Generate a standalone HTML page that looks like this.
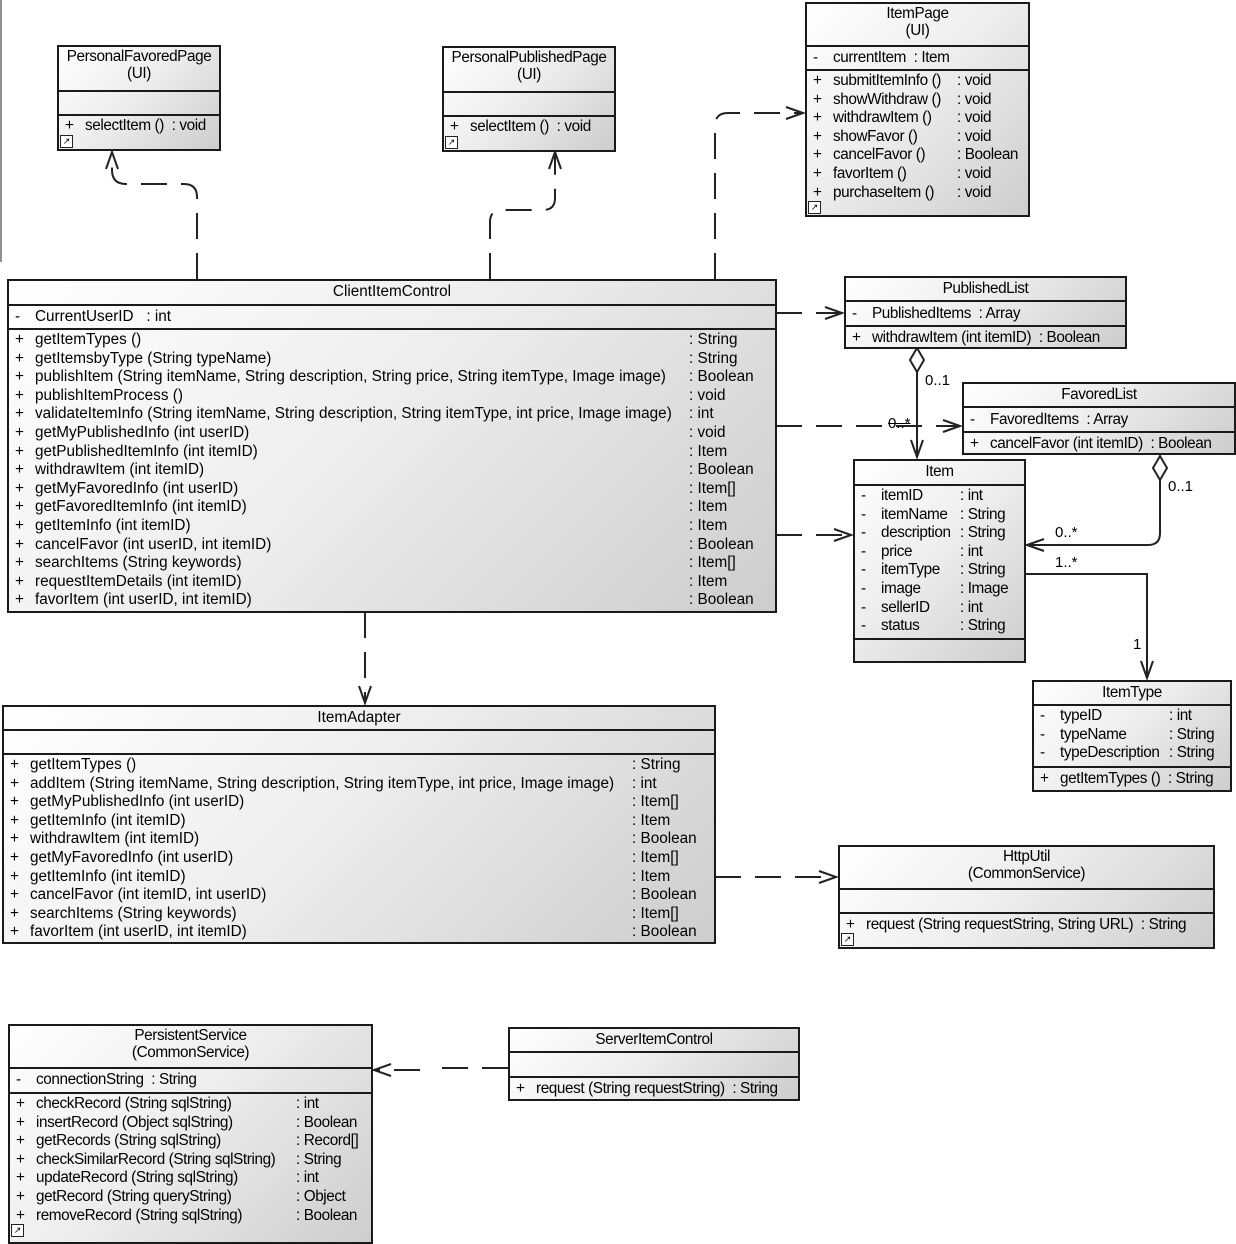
<!DOCTYPE html>
<html><head><meta charset="utf-8"><style>
body{margin:0;width:1236px;height:1240px;background:#fff;position:relative;overflow:hidden;font-family:"Liberation Sans",sans-serif}
.b{position:absolute;border:2px solid #1a1a1a;background:linear-gradient(135deg,#ffffff 0%,#eeeeee 45%,#cdcdcd 100%);font-size:15.3px;color:#000;box-sizing:border-box}
.n{letter-spacing:-0.4px}
.sec{position:relative;box-sizing:border-box;border-top:2px solid #1a1a1a}
.sec:first-child{border-top:none}
.h{text-align:center;line-height:17px;padding-top:1px}
.r{height:18.6px;line-height:17px;white-space:nowrap;position:relative;padding-left:6px}
.r i{font-style:normal;display:inline-block;width:20px}
.r b{font-weight:normal;position:absolute;top:0}
.ic{position:absolute;left:1px;bottom:1px;width:11px;height:11px;border:1px solid #222;background:#fff;font-size:9px;line-height:10px;text-align:center;letter-spacing:0}
svg{position:absolute;left:0;top:0}
.lb{position:absolute;font-size:15px;color:#000}
</style></head><body>

<svg width="1236" height="1240">
<defs>
<marker id="a" markerWidth="20" markerHeight="14" refX="18" refY="7" orient="auto" markerUnits="userSpaceOnUse"><path d="M1,1 L18,7 L1,13" fill="none" stroke="#222" stroke-width="2"/></marker>
</defs>
<line x1="1" y1="0" x2="1" y2="262" stroke="#222" stroke-width="1"/>
<g fill="none" stroke="#222" stroke-width="2" stroke-dasharray="26,14">
<path d="M197,279 V197 Q197,184 184,184 H126 Q112,184 112,170 V152" marker-end="url(#a)"/>
<path d="M490,279 V222 Q490,210 502,210 H543 Q555,210 555,198 V152" marker-end="url(#a)"/>
<path d="M715,279 V126 Q715,113 728,113 H803" marker-end="url(#a)"/>
<path d="M776,313 H842" marker-end="url(#a)"/>
<path d="M776,426 H960" marker-end="url(#a)"/>
<path d="M776,535 H851" marker-end="url(#a)"/>
<path d="M365,612 V703" marker-end="url(#a)"/>
<path d="M715,877 H836" marker-end="url(#a)"/>
<path d="M508,1068 H440 M420,1070 H374" marker-end="url(#a)"/>
</g>
<g fill="none" stroke="#222" stroke-width="2">
<path d="M917,372 V457" marker-end="url(#a)"/>
<path d="M917,348 L924,360 L917,372 L910,360 Z" fill="#fff"/>
<path d="M1160,480 V533 Q1160,545 1148,545 H1027" marker-end="url(#a)"/>
<path d="M1160,456 L1167,468 L1160,480 L1153,468 Z" fill="#fff"/>
<path d="M1025,574 H1147 V678" marker-end="url(#a)"/>
</g>
</svg>
<div class="lb" style="left:925px;top:372px">0..1</div>
<div class="lb" style="left:888px;top:415px;text-decoration:line-through">0..*</div>
<div class="lb" style="left:1168px;top:478px">0..1</div>
<div class="lb" style="left:1055px;top:524px">0..*</div>
<div class="lb" style="left:1055px;top:554px">1..*</div>
<div class="lb" style="left:1133px;top:636px">1</div>

<div class="b n" style="left:57px;top:45px;width:164px;height:106px">
<div class="sec h" style="height:43px">PersonalFavoredPage<br>(UI)</div>
<div class="sec" style="height:24px"></div>
<div class="sec" style="height:35px"><div class="r" style="padding-top:1px"><i>+</i>selectItem () &nbsp;: void</div></div>
<div class="ic">↗</div></div>

<div class="b n" style="left:442px;top:46px;width:174px;height:106px">
<div class="sec h" style="height:43px">PersonalPublishedPage<br>(UI)</div>
<div class="sec" style="height:24px"></div>
<div class="sec" style="height:35px"><div class="r" style="padding-top:1px"><i>+</i>selectItem () &nbsp;: void</div></div>
<div class="ic">↗</div></div>

<div class="b n" style="left:805px;top:2px;width:225px;height:215px">
<div class="sec h" style="height:41px">ItemPage<br>(UI)</div>
<div class="sec" style="height:24px"><div class="r" style="padding-top:2px"><i>-</i>currentItem &nbsp;: Item</div></div>
<div class="sec" style="height:146px;padding-top:1px">
<div class="r"><i>+</i>submitItemInfo ()<b style="left:150px">: void</b></div>
<div class="r"><i>+</i>showWithdraw ()<b style="left:150px">: void</b></div>
<div class="r"><i>+</i>withdrawItem ()<b style="left:150px">: void</b></div>
<div class="r"><i>+</i>showFavor ()<b style="left:150px">: void</b></div>
<div class="r"><i>+</i>cancelFavor ()<b style="left:150px">: Boolean</b></div>
<div class="r"><i>+</i>favorItem ()<b style="left:150px">: void</b></div>
<div class="r"><i>+</i>purchaseItem ()<b style="left:150px">: void</b></div>
</div><div class="ic">↗</div></div>

<div class="b" style="left:7px;top:279px;width:770px;height:334px">
<div class="sec h" style="height:23px;padding-top:2px">ClientItemControl</div>
<div class="sec" style="height:24px"><div class="r" style="padding-top:2px"><i>-</i>CurrentUserID&nbsp;&nbsp; : int</div></div>
<div class="sec" style="height:283px;padding-top:1px">
<div class="r"><i>+</i>getItemTypes ()<b style="left:680px">: String</b></div>
<div class="r"><i>+</i>getItemsbyType (String typeName)<b style="left:680px">: String</b></div>
<div class="r"><i>+</i>publishItem (String itemName, String description, String price, String itemType, Image image)<b style="left:680px">: Boolean</b></div>
<div class="r"><i>+</i>publishItemProcess ()<b style="left:680px">: void</b></div>
<div class="r"><i>+</i>validateItemInfo (String itemName, String description, String itemType, int price, Image image)<b style="left:680px">: int</b></div>
<div class="r"><i>+</i>getMyPublishedInfo (int userID)<b style="left:680px">: void</b></div>
<div class="r"><i>+</i>getPublishedItemInfo (int itemID)<b style="left:680px">: Item</b></div>
<div class="r"><i>+</i>withdrawItem (int itemID)<b style="left:680px">: Boolean</b></div>
<div class="r"><i>+</i>getMyFavoredInfo (int userID)<b style="left:680px">: Item[]</b></div>
<div class="r"><i>+</i>getFavoredItemInfo (int itemID)<b style="left:680px">: Item</b></div>
<div class="r"><i>+</i>getItemInfo (int itemID)<b style="left:680px">: Item</b></div>
<div class="r"><i>+</i>cancelFavor (int userID, int itemID)<b style="left:680px">: Boolean</b></div>
<div class="r"><i>+</i>searchItems (String keywords)<b style="left:680px">: Item[]</b></div>
<div class="r"><i>+</i>requestItemDetails (int itemID)<b style="left:680px">: Item</b></div>
<div class="r"><i>+</i>favorItem (int userID, int itemID)<b style="left:680px">: Boolean</b></div>
</div></div>

<div class="b n" style="left:844px;top:276px;width:283px;height:73px">
<div class="sec h" style="height:22px;padding-top:2px">PublishedList</div>
<div class="sec" style="height:25px"><div class="r" style="padding-top:3px"><i>-</i>PublishedItems &nbsp;: Array</div></div>
<div class="sec" style="height:22px"><div class="r" style="padding-top:2px"><i>+</i>withdrawItem (int itemID) &nbsp;: Boolean</div></div>
</div>

<div class="b n" style="left:962px;top:382px;width:274px;height:73px">
<div class="sec h" style="height:22px;padding-top:2px">FavoredList</div>
<div class="sec" style="height:25px"><div class="r" style="padding-top:3px"><i>-</i>FavoredItems &nbsp;: Array</div></div>
<div class="sec" style="height:22px"><div class="r" style="padding-top:2px"><i>+</i>cancelFavor (int itemID) &nbsp;: Boolean</div></div>
</div>

<div class="b n" style="left:853px;top:459px;width:173px;height:204px">
<div class="sec h" style="height:23px;padding-top:2px">Item</div>
<div class="sec" style="height:154px;padding-top:1px">
<div class="r"><i>-</i>itemID<b style="left:105px">: int</b></div>
<div class="r"><i>-</i>itemName<b style="left:105px">: String</b></div>
<div class="r"><i>-</i>description<b style="left:105px">: String</b></div>
<div class="r"><i>-</i>price<b style="left:105px">: int</b></div>
<div class="r"><i>-</i>itemType<b style="left:105px">: String</b></div>
<div class="r"><i>-</i>image<b style="left:105px">: Image</b></div>
<div class="r"><i>-</i>sellerID<b style="left:105px">: int</b></div>
<div class="r"><i>-</i>status<b style="left:105px">: String</b></div>
</div><div class="sec" style="height:23px"></div></div>

<div class="b n" style="left:1032px;top:680px;width:200px;height:112px">
<div class="sec h" style="height:22px;padding-top:2px">ItemType</div>
<div class="sec" style="height:62px;padding-top:1px">
<div class="r"><i>-</i>typeID<b style="left:135px">: int</b></div>
<div class="r"><i>-</i>typeName<b style="left:135px">: String</b></div>
<div class="r"><i>-</i>typeDescription<b style="left:135px">: String</b></div>
</div>
<div class="sec" style="height:24px"><div class="r" style="padding-top:2px"><i>+</i>getItemTypes () &nbsp;: String</div></div>
</div>

<div class="b" style="left:2px;top:705px;width:714px;height:239px">
<div class="sec h" style="height:22px;padding-top:2px">ItemAdapter</div>
<div class="sec" style="height:24px"></div>
<div class="sec" style="height:189px;padding-top:1px">
<div class="r"><i>+</i>getItemTypes ()<b style="left:628px">: String</b></div>
<div class="r"><i>+</i>addItem (String itemName, String description, String itemType, int price, Image image)<b style="left:628px">: int</b></div>
<div class="r"><i>+</i>getMyPublishedInfo (int userID)<b style="left:628px">: Item[]</b></div>
<div class="r"><i>+</i>getItemInfo (int itemID)<b style="left:628px">: Item</b></div>
<div class="r"><i>+</i>withdrawItem (int itemID)<b style="left:628px">: Boolean</b></div>
<div class="r"><i>+</i>getMyFavoredInfo (int userID)<b style="left:628px">: Item[]</b></div>
<div class="r"><i>+</i>getItemInfo (int itemID)<b style="left:628px">: Item</b></div>
<div class="r"><i>+</i>cancelFavor (int itemID, int userID)<b style="left:628px">: Boolean</b></div>
<div class="r"><i>+</i>searchItems (String keywords)<b style="left:628px">: Item[]</b></div>
<div class="r"><i>+</i>favorItem (int userID, int itemID)<b style="left:628px">: Boolean</b></div>
</div></div>

<div class="b n" style="left:838px;top:845px;width:377px;height:104px">
<div class="sec h" style="height:41px">HttpUtil<br>(CommonService)</div>
<div class="sec" style="height:24px"></div>
<div class="sec" style="height:35px"><div class="r" style="padding-top:2px"><i>+</i>request (String requestString, String URL) &nbsp;: String</div></div>
<div class="ic">↗</div></div>

<div class="b n" style="left:8px;top:1024px;width:365px;height:220px">
<div class="sec h" style="height:41px">PersistentService<br>(CommonService)</div>
<div class="sec" style="height:25px"><div class="r" style="padding-top:2px"><i>-</i>connectionString &nbsp;: String</div></div>
<div class="sec" style="height:150px;padding-top:1px">
<div class="r"><i>+</i>checkRecord (String sqlString)<b style="left:286px">: int</b></div>
<div class="r"><i>+</i>insertRecord (Object sqlString)<b style="left:286px">: Boolean</b></div>
<div class="r"><i>+</i>getRecords (String sqlString)<b style="left:286px">: Record[]</b></div>
<div class="r"><i>+</i>checkSimilarRecord (String sqlString)<b style="left:286px">: String</b></div>
<div class="r"><i>+</i>updateRecord (String sqlString)<b style="left:286px">: int</b></div>
<div class="r"><i>+</i>getRecord (String queryString)<b style="left:286px">: Object</b></div>
<div class="r"><i>+</i>removeRecord (String sqlString)<b style="left:286px">: Boolean</b></div>
</div><div class="ic" style="bottom:5px">↗</div></div>

<div class="b n" style="left:508px;top:1027px;width:292px;height:74px">
<div class="sec h" style="height:22px;padding-top:2px">ServerItemControl</div>
<div class="sec" style="height:25px"></div>
<div class="sec" style="height:23px"><div class="r" style="padding-top:2px"><i>+</i>request (String requestString) &nbsp;: String</div></div>
</div>

</body></html>
